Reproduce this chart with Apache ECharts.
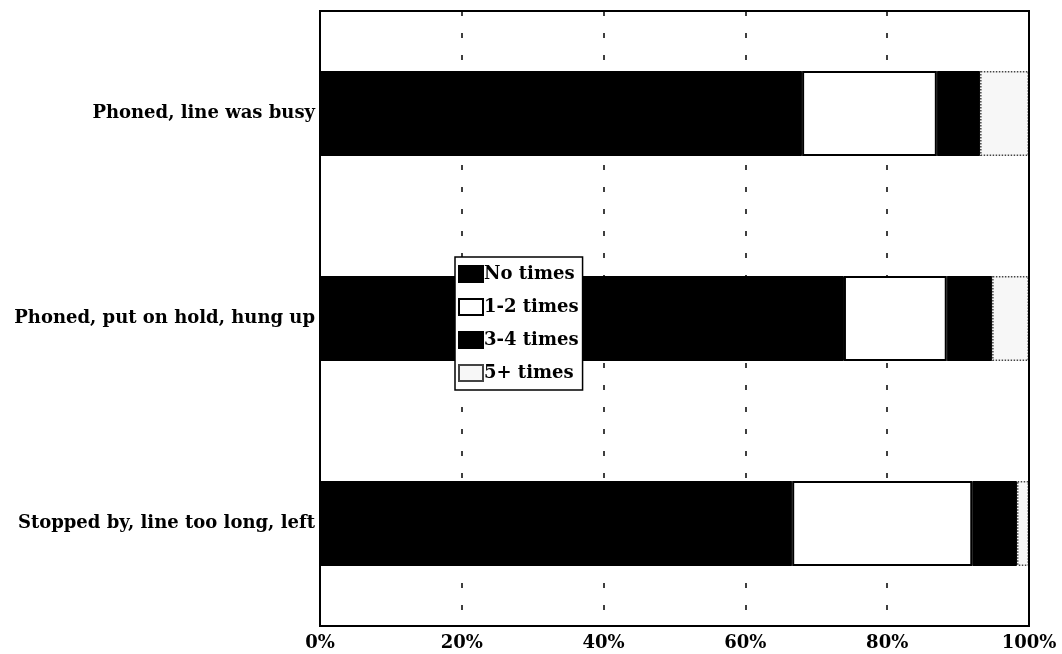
<!DOCTYPE html>
<html>
<head>
<meta charset="utf-8">
<script src="https://cdn.jsdelivr.net/npm/echarts@6/dist/echarts.min.js"></script>
<style>html,body{margin:0;padding:0;background:#fff}#c{width:1062px;height:654px}</style>
</head>
<body>
<div id="c"></div>
<script>
const categories = ['Phoned, line was busy', 'Phoned, put on hold, hung up', 'Stopped by, line too long, left'];
const noTimes = [68.0, 73.9, 66.6];
const oneTwo = [19.0, 14.5, 25.4];
const threeFour = [6.1, 6.4, 6.3];
const fivePlus = [6.9, 5.2, 1.7];
const xTicks = [0, 20, 40, 60, 80, 100];

const font = '"DejaVu Serif", "Liberation Serif", serif';
const fs = 18;
const chart = echarts.init(document.getElementById('c'));
function seriesDef(name, data, style) {
  return { name, type: 'bar', stack: 'all', data, barWidth: 85, itemStyle: style, emphasis: { disabled: true } };
}
chart.setOption({
  animation: false,
  backgroundColor: '#fff',
  grid: { left: 320, right: 33, top: 11, bottom: 28, show: true, borderColor: '#000', borderWidth: 2, backgroundColor: 'transparent', z: 10 },
  legend: {
    left: 455, top: 257, orient: 'vertical',
    backgroundColor: '#fff', borderColor: '#000', borderWidth: 1.5,
    padding: [8, 4, 8, 3], itemGap: 15, itemWidth: 24, itemHeight: 16,
    icon: 'rect',
    textStyle: { fontFamily: font, fontWeight: 'bold', fontSize: fs, color: '#000', padding: [0, 0, 0, -4] },
    data: ['No times', '1-2 times', '3-4 times', '5+ times']
  },
  xAxis: {
    type: 'value', min: 0, max: 100, interval: 20,
    axisLine: { show: true, lineStyle: { color: '#000', width: 2 } },
    axisTick: { show: false },
    axisLabel: { fontFamily: font, fontWeight: 'bold', fontSize: fs, color: '#000', margin: 8,
      formatter: v => xTicks.includes(v) ? v + '%' : '' },
    splitLine: { show: true, lineStyle: { color: '#000', width: 1.5, type: [5, 17] } }
  },
  yAxis: {
    type: 'category', data: categories, inverse: true,
    axisLine: { show: true, lineStyle: { color: '#000', width: 2 } },
    axisTick: { show: false },
    axisLabel: { fontFamily: font, fontWeight: 'bold', fontSize: fs, color: '#000', margin: 5 }
  },
  series: [
    seriesDef('No times', noTimes, { color: '#000', borderColor: '#000', borderWidth: 1 }),
    seriesDef('1-2 times', oneTwo, { color: '#fff', borderColor: '#000', borderWidth: 2 }),
    seriesDef('3-4 times', threeFour, { color: '#000', borderColor: '#000', borderWidth: 1 }),
    seriesDef('5+ times', fivePlus, { color: '#f7f7f7', borderColor: '#444', borderWidth: 1.5, borderType: 'dotted' })
  ]
});
</script>
</body>
</html>
